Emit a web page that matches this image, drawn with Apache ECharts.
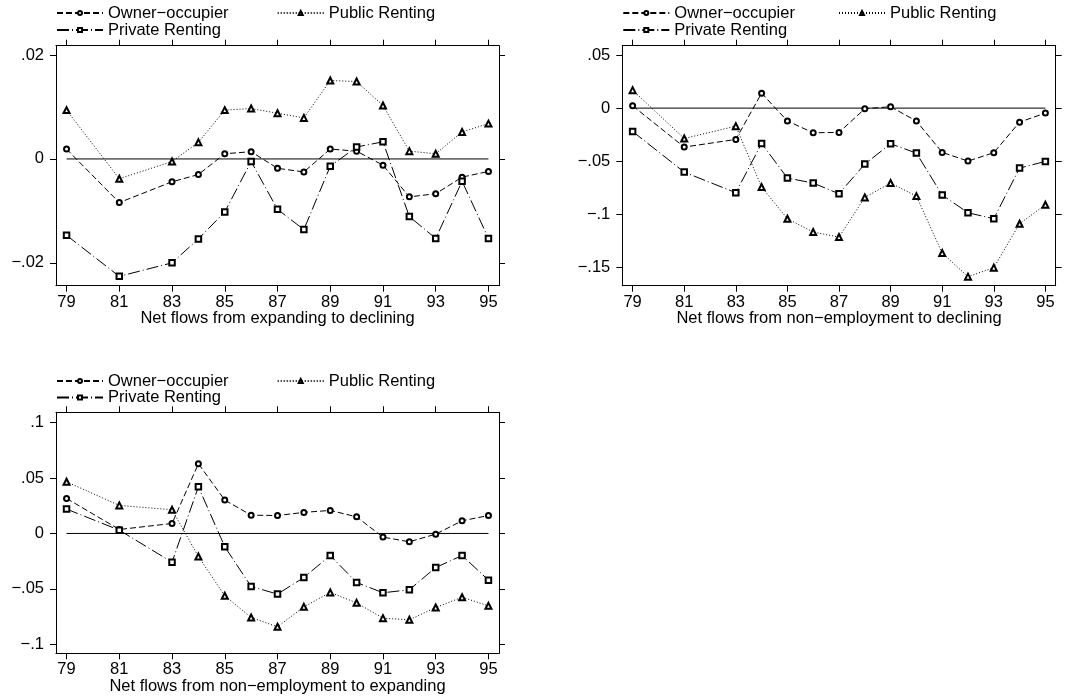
<!DOCTYPE html>
<html>
<head>
<meta charset="utf-8">
<script src="https://cdn.jsdelivr.net/npm/echarts@6/dist/echarts.min.js"></script>
<style>html,body{margin:0;padding:0;background:#fff}#c{width:1074px;height:697px}</style>
</head>
<body>
<div id="c"></div>
<script>
// ---------- data ----------
const years = [79, 81, 83, 84, 85, 86, 87, 88, 89, 90, 91, 92, 93, 94, 95];
const xTicks = [79, 81, 83, 85, 87, 89, 91, 93, 95];
const seriesNames = ['Owner\u2212occupier', 'Public Renting', 'Private Renting'];

// Panel 1: Net flows from expanding to declining
const p1Owner   = [0.0019, -0.0084, -0.0044, -0.0030, 0.0010, 0.0014, -0.0018, -0.0025, 0.0019, 0.0015, -0.0012, -0.0073, -0.0067, -0.0035, -0.0024];
const p1Public  = [0.0094, -0.0038, -0.0005, 0.0032, 0.0094, 0.0097, 0.0088, 0.0079, 0.0151, 0.0149, 0.0103, 0.0015, 0.0010, 0.0052, 0.0068];
const p1Private = [-0.0147, -0.0226, -0.0200, -0.0154, -0.0102, -0.0005, -0.0097, -0.0136, -0.0014, 0.0023, 0.0033, -0.0111, -0.0153, -0.0043, -0.0153];
const p1Ticks  = [-0.02, 0, 0.02];
const p1Labels = ['\u2212.02', '0', '.02'];
const p1Title  = 'Net flows from expanding to declining';

// Panel 2: Net flows from non-employment to declining
const p2Owner   = [0.0022, -0.0367, -0.0295, 0.0141, -0.0122, -0.0232, -0.0229, -0.0006, 0.0013, -0.0122, -0.0417, -0.0499, -0.0420, -0.0132, -0.0047];
const p2Public  = [0.0169, -0.0286, -0.0170, -0.0744, -0.1042, -0.1168, -0.1215, -0.0841, -0.0706, -0.0829, -0.1365, -0.1588, -0.1503, -0.1089, -0.0910];
const p2Private = [-0.0220, -0.0603, -0.0797, -0.0333, -0.0659, -0.0706, -0.0807, -0.0527, -0.0336, -0.0424, -0.0819, -0.0986, -0.1042, -0.0565, -0.0502];
const p2Ticks  = [-0.15, -0.1, -0.05, 0, 0.05];
const p2Labels = ['\u2212.15', '\u2212.1', '\u2212.05', '0', '.05'];
const p2Title  = 'Net flows from non\u2212employment to declining';

// Panel 3: Net flows from non-employment to expanding
const p3Owner   = [0.0316, 0.0036, 0.0090, 0.0629, 0.0301, 0.0165, 0.0162, 0.0190, 0.0208, 0.0150, -0.0033, -0.0075, -0.0006, 0.0114, 0.0162];
const p3Public  = [0.0466, 0.0253, 0.0214, -0.0208, -0.0562, -0.0758, -0.0842, -0.0662, -0.0532, -0.0626, -0.0764, -0.0779, -0.0668, -0.0575, -0.0653];
const p3Private = [0.0220, 0.0030, -0.0259, 0.0421, -0.0120, -0.0478, -0.0547, -0.0397, -0.0199, -0.0442, -0.0535, -0.0508, -0.0307, -0.0199, -0.0421];
const p3Ticks  = [-0.1, -0.05, 0, 0.05, 0.1];
const p3Labels = ['\u2212.1', '\u2212.05', '0', '.05', '.1'];
const p3Title  = 'Net flows from non\u2212employment to expanding';

// ---------- layout ----------
const FONT = 'Liberation Sans, Arial, Helvetica, sans-serif';
const FS = 16.5;
const panels = [
  { grid: {left: 56, top: 45.7, width: 443, height: 240}, yr: [-0.0244, 0.0218], ticks: p1Ticks, labels: p1Labels, title: p1Title,
    data: [p1Owner, p1Public, p1Private], leg: {x1: 56, x2: 276.7, y1: 4.5, y2: 21.5} },
  { grid: {left: 622.3, top: 45.7, width: 433.4, height: 240}, yr: [-0.1673, 0.0588], ticks: p2Ticks, labels: p2Labels, title: p2Title,
    data: [p2Owner, p2Public, p2Private], leg: {x1: 622.3, x2: 838, y1: 4.5, y2: 21.5} },
  { grid: {left: 56, top: 412.3, width: 443, height: 241}, yr: [-0.1081, 0.1093], ticks: p3Ticks, labels: p3Labels, title: p3Title,
    data: [p3Owner, p3Public, p3Private], leg: {x1: 56, x2: 276.7, y1: 372.5, y2: 389} }
];

const styles = [
  { symbol: 'emptyCircle',   size: 5, type: [6, 3] },
  { symbol: 'emptyTriangle', size: 6, type: [1, 2] },
  { symbol: 'emptyRect',     size: 5.5, type: [12, 3, 1, 3] }
];

const grids = [], xAxes = [], yAxes = [], series = [], legends = [];
const lineCol = '#000';

panels.forEach((p, i) => {
  grids.push(Object.assign({}, p.grid, {containLabel: false}));
  const xBase = {
    type: 'value', gridIndex: i, min: 78.6, max: 95.4,
    axisLine: {show: true, onZero: false, lineStyle: {color: lineCol, width: 1}},
    axisTick: {show: true, inside: false, length: 6, customValues: xTicks, lineStyle: {color: lineCol}},
    splitLine: {show: false}
  };
  xAxes.push(Object.assign({}, xBase, {
    position: 'bottom',
    axisLabel: {show: true, customValues: xTicks, margin: 8, color: '#000', fontSize: FS, fontFamily: FONT},
    name: p.title, nameLocation: 'middle', nameGap: 24.5, nameMoveOverlap: false,
    nameTextStyle: {color: '#000', fontSize: FS, fontFamily: FONT}
  }));
  xAxes.push(Object.assign({}, xBase, {position: 'top', axisLabel: {show: false}}));
  const yBase = {
    type: 'value', gridIndex: i, min: p.yr[0], max: p.yr[1],
    axisLine: {show: true, onZero: false, lineStyle: {color: lineCol, width: 1}},
    axisTick: {show: true, inside: false, length: 6, customValues: p.ticks, lineStyle: {color: lineCol}},
    splitLine: {show: false}
  };
  const labs = p.labels, tks = p.ticks;
  yAxes.push(Object.assign({}, yBase, {
    position: 'left',
    axisLabel: {show: true, customValues: tks, margin: 12, color: '#000', fontSize: FS, fontFamily: FONT,
      formatter: v => { for (let k = 0; k < tks.length; k++) if (Math.abs(tks[k] - v) < 1e-9) return labs[k]; return ''; }}
  }));
  yAxes.push(Object.assign({}, yBase, {position: 'right', axisLabel: {show: false}}));

  // zero reference line
  series.push({
    type: 'line', name: 'zero' + i, xAxisIndex: 2 * i, yAxisIndex: 2 * i,
    data: [[years[0], 0], [years[years.length - 1], 0]],
    symbol: 'none', silent: true, lineStyle: {color: '#000', width: 1, type: 'solid'}, z: 1
  });
  p.data.forEach((arr, s) => {
    series.push({
      type: 'line', name: seriesNames[s], xAxisIndex: 2 * i, yAxisIndex: 2 * i,
      data: years.map((y, k) => [y, arr[k]]),
      symbol: styles[s].symbol, symbolSize: styles[s].size, showSymbol: true, showAllSymbol: true,
      itemStyle: {color: '#000', borderColor: '#000', borderWidth: 1},
      lineStyle: {color: '#000', width: 1, type: styles[s].type},
      z: 3
    });
  });
  const legPos = [[p.leg.x1, p.leg.y1], [p.leg.x2, p.leg.y1], [p.leg.x1, p.leg.y2]];
  seriesNames.forEach((nm, s) => {
    legends.push({
      data: [nm], left: legPos[s][0], top: legPos[s][1], padding: 0, orient: 'horizontal',
      itemWidth: 46, itemHeight: 5, selectedMode: false,
      textStyle: {color: '#000', fontSize: FS, fontFamily: FONT}
    });
  });
});

const chart = echarts.init(document.getElementById('c'), null, {renderer: 'canvas'});
chart.setOption({
  animation: false,
  backgroundColor: '#fff',
  grid: grids, xAxis: xAxes, yAxis: yAxes, series: series, legend: legends
});
</script>
</body>
</html>
